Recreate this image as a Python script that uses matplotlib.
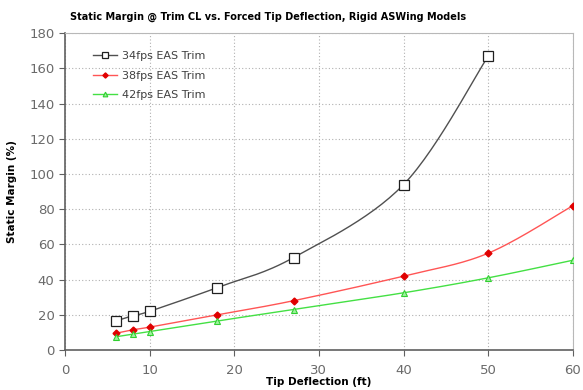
import numpy as np
import matplotlib
matplotlib.use("Agg")
import matplotlib.pyplot as plt

# tip deflection (ft) and static margin (%)
x34 = [6, 8, 10, 18, 27, 40, 50]
sm34 = [16.5, 19.5, 22, 35.5, 52.5, 94, 167]
x38 = [6, 8, 10, 18, 27, 40, 50, 60]
sm38 = [9.5, 11.5, 13, 20, 28, 42, 55, 82]
x42 = [6, 8, 10, 18, 27, 40, 50, 60]
sm42 = [7.5, 9, 10.5, 16.5, 23, 32.5, 41, 51]
labels = ['34fps EAS Trim', '38fps EAS Trim', '42fps EAS Trim']


def smooth(x, y, n=30):
    # Excel-style smoothed line: cubic bezier through points
    x = np.asarray(x, float)
    y = np.asarray(y, float)
    px = np.concatenate([[x[0]], x, [x[-1]]])
    py = np.concatenate([[y[0]], y, [y[-1]]])
    xs, ys = [], []
    t = np.linspace(0, 1, n)
    for i in range(1, len(px) - 2):
        p0 = np.array([px[i], py[i]])
        p3 = np.array([px[i + 1], py[i + 1]])
        p1 = p0 + (p3 - np.array([px[i - 1], py[i - 1]])) / 6
        p2 = p3 - (np.array([px[i + 2], py[i + 2]]) - p0) / 6
        b = ((1 - t) ** 3)[:, None] * p0 + (3 * (1 - t) ** 2 * t)[:, None] * p1 \
            + (3 * (1 - t) * t ** 2)[:, None] * p2 + (t ** 3)[:, None] * p3
        xs.extend(b[:, 0])
        ys.extend(b[:, 1])
    return xs, ys


fig = plt.figure(figsize=(5.83, 3.9), dpi=100)
ax = fig.add_axes([0.1115, 0.1026, 0.871, 0.812])

series = [
    (x34, sm34, '#505050', dict(marker='s', ms=6.5, mfc='white', mec='#202020', mew=0.9)),
    (x38, sm38, '#ff5555', dict(marker='D', ms=3.5, mfc='#e00000', mec='#e00000')),
    (x42, sm42, '#44e044', dict(marker='^', ms=4.5, mfc='#a0f0a0', mec='#30d030', mew=0.8)),
]
for (xx, yy, c, mk), lab in zip(series, labels):
    sx, sy = smooth(xx, yy)
    ax.plot(sx, sy, color=c, lw=1.0, zorder=3)
    ax.plot(xx, yy, ls='none', zorder=4, **mk)
    # legend proxy
    ax.plot([], [], color=c, lw=1.0, label=lab, **mk)

ax.set_xlim(0, 60)
ax.set_ylim(0, 180)
ax.set_xticks(range(0, 61, 10))
ax.set_yticks(range(0, 181, 20))
ax.grid(True, color='#b0b0b0', ls=(0, (1, 2)), lw=0.8)
ax.set_axisbelow(True)
for s in ['top', 'right']:
    ax.spines[s].set_color('#b8b8b8')
for s in ['left', 'bottom']:
    ax.spines[s].set_color('#606060')
    ax.spines[s].set_linewidth(1.2)
ax.tick_params(colors='#606060', labelcolor='#6a6a6a', labelsize=9.5, length=4, direction='out')
ax.tick_params(axis='x', pad=6)

fig.text(268 / 583, 1 - 17 / 390, 'Static Margin @ Trim CL vs. Forced Tip Deflection, Rigid ASWing Models',
         fontsize=7, fontweight='bold', ha='center', va='center')
ax.set_xlabel('Tip Deflection (ft)', fontsize=7.5, fontweight='bold', labelpad=0)
ax.set_ylabel('Static Margin (%)', fontsize=7.5, fontweight='bold', labelpad=9)

leg = ax.legend(loc='upper left', bbox_to_anchor=(0.035, 0.975), frameon=False,
                fontsize=8, handlelength=2.2, labelspacing=0.85, handletextpad=0.4,
                markerscale=0.75, labelcolor='#404040')

fig.savefig('out.png', dpi=100)
